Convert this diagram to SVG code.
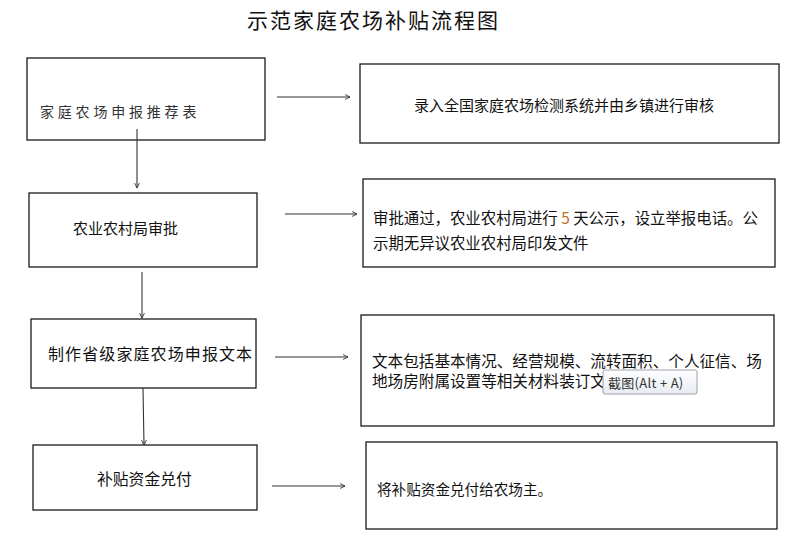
<svg xmlns="http://www.w3.org/2000/svg" width="800" height="547" viewBox="0 0 800 547">
<defs>
<style>
.box{fill:#fff;stroke:#1a1a1a;stroke-width:1.3}
.t{font-family:"Noto Sans CJK SC","Noto Sans",sans-serif;font-size:15px;fill:#111;dominant-baseline:central}
.c{fill:none;stroke:#333;stroke-width:1.1}
</style>
<marker id="ah" viewBox="0 0 10 10" refX="9" refY="5" markerWidth="7" markerHeight="7" markerUnits="userSpaceOnUse" orient="auto">
<path d="M2,1.5 L9,5 L2,8.5" fill="none" stroke="#333" stroke-width="1.3"/>
</marker>
<linearGradient id="tip" x1="0" y1="0" x2="0" y2="1">
<stop offset="0" stop-color="#ffffff"/>
<stop offset="1" stop-color="#e8ecf2"/>
</linearGradient>
</defs>
<rect width="800" height="547" fill="#fff"/>
<text id="title" x="247" y="19" class="t" style="font-size:21px;letter-spacing:2px">示范家庭农场补贴流程图</text>

<g id="n1"><rect class="box" x="27" y="58" width="238" height="82"/><text class="t" x="40" y="111" style="font-size:14px;letter-spacing:3.8px;fill:#333">家庭农场申报推荐表</text></g>
<g id="r1"><rect class="box" x="360" y="64" width="419" height="79"/><text class="t" x="414" y="104">录入全国家庭农场检测系统并由乡镇进行审核</text></g>
<g id="n2"><rect class="box" x="29" y="193" width="228" height="74"/><text class="t" x="73" y="227">农业农村局审批</text></g>
<g id="r2"><rect class="box" x="363" y="179" width="412" height="88"/><text class="t" x="373" y="217" style="font-size:15.4px">审批通过，农业农村局进行 <tspan fill="#c0701a">5</tspan> 天公示，设立举报电话。公</text><text class="t" x="373" y="242" style="font-size:15.4px">示期无异议农业农村局印发文件</text></g>
<g id="n3"><rect class="box" x="31" y="319" width="225" height="69"/><text class="t" x="48" y="353" style="font-size:16px;letter-spacing:1.1px">制作省级家庭农场申报文本</text></g>
<g id="r3"><rect class="box" x="361" y="315" width="413" height="111"/><text class="t" x="372" y="360" style="font-size:15.6px">文本包括基本情况、经营规模、流转面积、个人征信、场</text><text class="t" x="372" y="380" style="font-size:15.6px">地场房附属设置等相关材料装订文</text>
<g id="tooltip"><rect x="603" y="370" width="94" height="24" rx="2" fill="url(#tip)" stroke="#9aa0a8" stroke-width="1"/><text x="608" y="382" style="font-family:'Noto Sans CJK SC','Noto Sans',sans-serif;font-size:13px;letter-spacing:0.3px;fill:#333;dominant-baseline:central">截图(Alt + A)</text></g></g>
<g id="n4"><rect class="box" x="33" y="445" width="224" height="65"/><text class="t" x="97" y="478" style="font-size:15.8px">补贴资金兑付</text></g>
<g id="r4"><rect class="box" x="366" y="442" width="411" height="87"/><text class="t" x="377" y="488" style="font-size:14.6px">将补贴资金兑付给农场主。</text></g>

<g id="connectors">
<line class="c" x1="277" y1="97" x2="350" y2="97" marker-end="url(#ah)"/>
<line class="c" x1="285" y1="214" x2="357" y2="214" marker-end="url(#ah)"/>
<line class="c" x1="275" y1="357" x2="348" y2="357" marker-end="url(#ah)"/>
<line class="c" x1="272" y1="486" x2="345" y2="486" marker-end="url(#ah)"/>
<line class="c" x1="137" y1="129" x2="137" y2="188" marker-end="url(#ah)"/>
<line class="c" x1="142" y1="272" x2="142" y2="318" marker-end="url(#ah)"/>
<line class="c" x1="143" y1="388" x2="144" y2="445" marker-end="url(#ah)"/>
</g>
</svg>
